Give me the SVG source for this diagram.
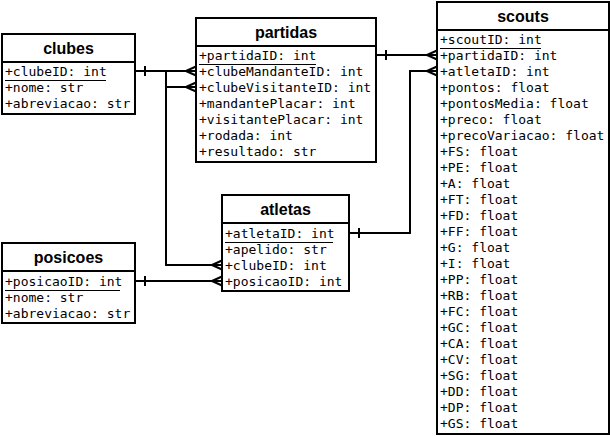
<svg xmlns="http://www.w3.org/2000/svg" width="610" height="436" viewBox="0 0 610 436">
<style>
.box{fill:#fff;stroke:#000;stroke-width:2}
.hl{stroke:#000;stroke-width:2}
.sep{stroke:#000;stroke-width:1}
.title{font-family:"Liberation Sans",Arial,sans-serif;font-weight:bold;font-size:16px;text-anchor:middle;fill:#000}
.f{font-family:"DejaVu Sans Mono","Liberation Mono",monospace;font-size:13px;fill:#000}
.c{fill:none;stroke:#000;stroke-width:2}
</style>
<defs>
<marker id="many" markerUnits="userSpaceOnUse" viewBox="-12 -6 14 12" refX="0" refY="0" markerWidth="14" markerHeight="12" orient="auto" overflow="visible">
<path d="M-10,0 L0,-4.5 M-10,0 L0,4.5 M-10,0 L0,0" fill="none" stroke="#000" stroke-width="2"/>
</marker>
<marker id="one" markerUnits="userSpaceOnUse" viewBox="0 -6 14 12" refX="0" refY="0" markerWidth="14" markerHeight="12" orient="auto" overflow="visible">
<path d="M10,-5 V5" fill="none" stroke="#000" stroke-width="2"/>
</marker>
</defs>
<rect width="610" height="436" fill="#fff"/>
<g id="connectors">
<path class="c" d="M135,71 H196" marker-start="url(#one)" marker-end="url(#many)"/>
<path class="c" d="M166,71 V87 H196" marker-end="url(#many)"/>
<path class="c" d="M166,87 V265 H222" marker-end="url(#many)"/>
<path class="c" d="M135,281 H222" marker-start="url(#one)" marker-end="url(#many)"/>
<path class="c" d="M376,55 H437" marker-start="url(#one)" marker-end="url(#many)"/>
<path class="c" d="M349,233 H410 V71 H437" marker-start="url(#one)" marker-end="url(#many)"/>
</g>
<g id="clubes">
<rect class="box" x="2" y="34" width="133" height="80"/>
<line class="hl" x1="2" y1="62" x2="135" y2="62"/>
<text class="title" x="68.5" y="54">clubes</text>
<text class="f" x="5" y="76">+clubeID: int</text>
<line class="sep" x1="5" y1="80.5" x2="106" y2="80.5"/>
<text class="f" x="5" y="92">+nome: str</text>
<text class="f" x="5" y="108">+abreviacao: str</text>
</g>
<g id="partidas">
<rect class="box" x="196" y="18" width="180" height="144"/>
<line class="hl" x1="196" y1="46" x2="376" y2="46"/>
<text class="title" x="286" y="38">partidas</text>
<text class="f" x="199" y="60">+partidaID: int</text>
<line class="sep" x1="199" y1="64.5" x2="316" y2="64.5"/>
<text class="f" x="199" y="76">+clubeMandanteID: int</text>
<text class="f" x="199" y="92">+clubeVisitanteID: int</text>
<text class="f" x="199" y="108">+mandantePlacar: int</text>
<text class="f" x="199" y="124">+visitantePlacar: int</text>
<text class="f" x="199" y="140">+rodada: int</text>
<text class="f" x="199" y="156">+resultado: str</text>
</g>
<g id="scouts">
<rect class="box" x="437" y="2" width="172" height="432"/>
<line class="hl" x1="437" y1="30" x2="609" y2="30"/>
<text class="title" x="523" y="22">scouts</text>
<text class="f" x="440" y="44">+scoutID: int</text>
<line class="sep" x1="440" y1="48.5" x2="541" y2="48.5"/>
<text class="f" x="440" y="60">+partidaID: int</text>
<text class="f" x="440" y="76">+atletaID: int</text>
<text class="f" x="440" y="92">+pontos: float</text>
<text class="f" x="440" y="108">+pontosMedia: float</text>
<text class="f" x="440" y="124">+preco: float</text>
<text class="f" x="440" y="140">+precoVariacao: float</text>
<text class="f" x="440" y="156">+FS: float</text>
<text class="f" x="440" y="172">+PE: float</text>
<text class="f" x="440" y="188">+A: float</text>
<text class="f" x="440" y="204">+FT: float</text>
<text class="f" x="440" y="220">+FD: float</text>
<text class="f" x="440" y="236">+FF: float</text>
<text class="f" x="440" y="252">+G: float</text>
<text class="f" x="440" y="268">+I: float</text>
<text class="f" x="440" y="284">+PP: float</text>
<text class="f" x="440" y="300">+RB: float</text>
<text class="f" x="440" y="316">+FC: float</text>
<text class="f" x="440" y="332">+GC: float</text>
<text class="f" x="440" y="348">+CA: float</text>
<text class="f" x="440" y="364">+CV: float</text>
<text class="f" x="440" y="380">+SG: float</text>
<text class="f" x="440" y="396">+DD: float</text>
<text class="f" x="440" y="412">+DP: float</text>
<text class="f" x="440" y="428">+GS: float</text>
</g>
<g id="atletas">
<rect class="box" x="222" y="195" width="127" height="96"/>
<line class="hl" x1="222" y1="223" x2="349" y2="223"/>
<text class="title" x="285.5" y="215">atletas</text>
<text class="f" x="225" y="238">+atletaID: int</text>
<line class="sep" x1="225" y1="242.5" x2="333" y2="242.5"/>
<text class="f" x="225" y="254">+apelido: str</text>
<text class="f" x="225" y="270">+clubeID: int</text>
<text class="f" x="225" y="286">+posicaoID: int</text>
</g>
<g id="posicoes">
<rect class="box" x="2" y="243" width="133" height="80"/>
<line class="hl" x1="2" y1="271" x2="135" y2="271"/>
<text class="title" x="68.5" y="263">posicoes</text>
<text class="f" x="5" y="286">+posicaoID: int</text>
<line class="sep" x1="5" y1="290.5" x2="120" y2="290.5"/>
<text class="f" x="5" y="302">+nome: str</text>
<text class="f" x="5" y="318">+abreviacao: str</text>
</g>
</svg>
